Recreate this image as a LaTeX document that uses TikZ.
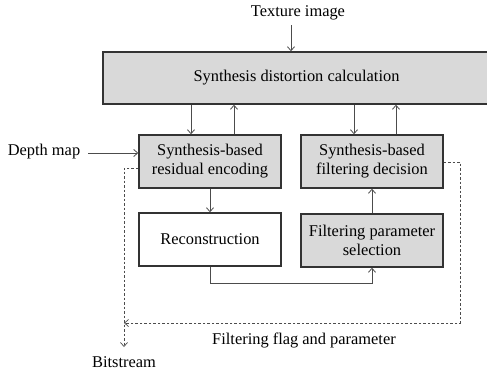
\documentclass[tikz,border=0pt]{standalone}
\usepackage{fontspec}
\setmainfont{Liberation Serif}
\usetikzlibrary{arrows.meta}
\begin{document}
\begin{tikzpicture}[x=1pt,y=-1pt,
  box/.style={draw=black!80,line width=1.4pt,fill=#1,minimum width=142pt,minimum height=53pt,align=center,font=\fontsize{16.4}{19}\selectfont,inner sep=0pt},
  box/.default={black!15},
  lbl/.style={font=\fontsize{16.4}{19}\selectfont,inner sep=0pt},
  arr/.style={draw=black!70,line width=0.8pt,-{Straight Barb[length=4pt,width=7pt]}},
  darr/.style={draw=black!70,line width=0.7pt,dashed,dash pattern=on 2.5pt off 2pt,-{Straight Barb[length=4pt,width=7pt]}}]
\useasboundingbox (0,0) rectangle (487,375);
\node[box,minimum width=387pt,minimum height=52pt] (sdc) at (296.5,78) {Synthesis distortion calculation};
\node[box] (sre) at (210,161.5) {Synthesis-based\\residual encoding};
\node[box] (sfd) at (372,161.5) {Synthesis-based\\filtering decision};
\node[box=white] (rec) at (210,239.5) {Reconstruction};
\node[box] (fps) at (372,240.5) {Filtering parameter\\selection};
\node[lbl] (tex) at (298,13) {Texture image};
\node[lbl] (dep) at (44,152) {Depth map};
\node[lbl] (bit) at (124,362) {Bitstream};
\node[lbl] (ffp) at (304,340) {Filtering flag and parameter};
\coordinate (t0) at (291,25);
\coordinate (d0) at (88,153);
\coordinate (c1) at (124,168);
\coordinate (c2) at (124,347);
\coordinate (c3) at (460,162);
\coordinate (c4) at (460,323);
\coordinate (c5) at (124,323);
\coordinate (c6) at (210,283);
\coordinate (c7) at (372,283);
\draw[arr] (t0) -- (t0 |- sdc.north);
\draw[arr] (sdc.south -| 191,0) -- (sre.north -| 191,0);
\draw[arr] (sre.north -| 234,0) -- (sdc.south -| 234,0);
\draw[arr] (sdc.south -| 354,0) -- (sfd.north -| 354,0);
\draw[arr] (sfd.north -| 396,0) -- (sdc.south -| 396,0);
\draw[arr] (d0) -- (sre.west |- d0);
\draw[arr] (sre.south) -- (rec.north);
\draw[arr] (rec.south) -- (c6) -- (c7) -- (fps.south);
\draw[arr] (fps.north) -- (sfd.south);
\draw[darr] (sre.west |- c1) -- (c1) -- (c2);
\draw[darr] (sfd.east |- c3) -- (c3) -- (c4) -- (c5);
\end{tikzpicture}
\end{document}
